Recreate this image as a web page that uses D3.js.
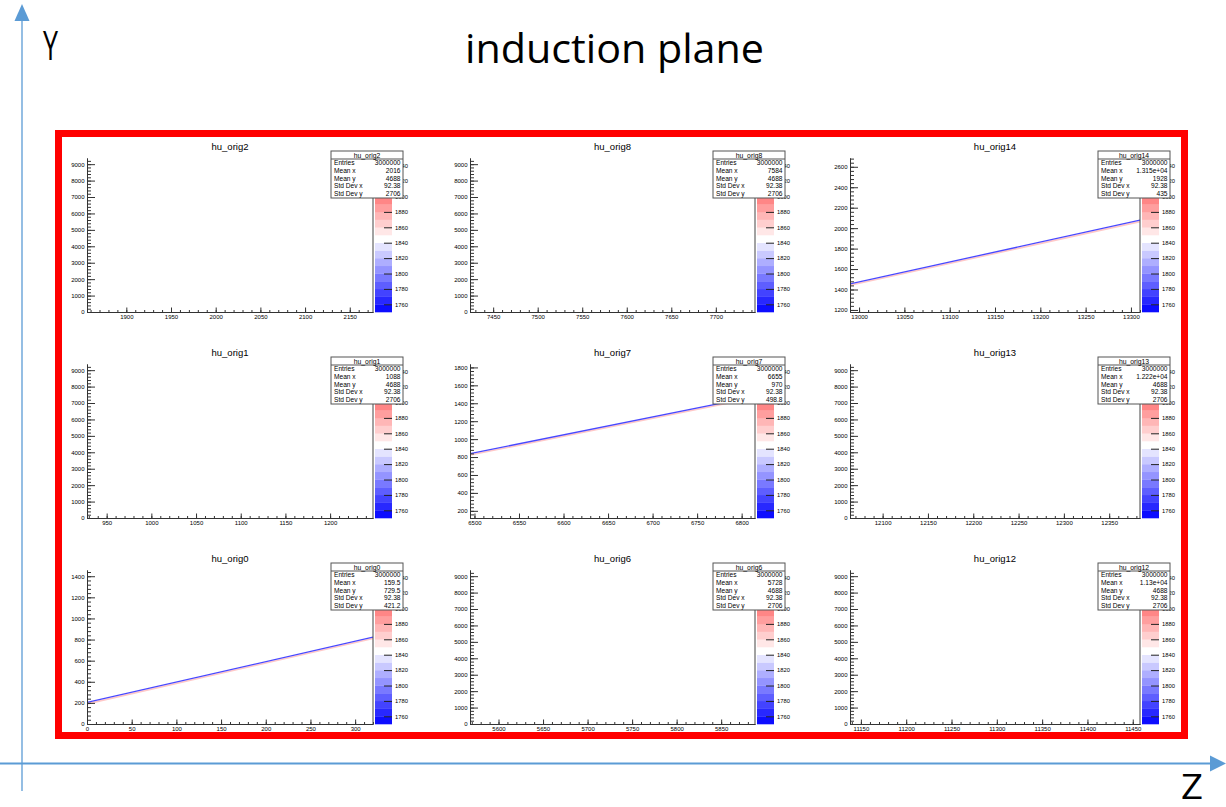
<!DOCTYPE html>
<html>
<head>
<meta charset="utf-8">
<script src="https://cdn.jsdelivr.net/npm/d3@7"></script>
<style>
  body { margin: 0; background: #fff; }
  svg { display: block; }
  .rootTxt { font-family: "Liberation Sans", Arial, sans-serif; }
</style>
</head>
<body>
<div id="chart"></div>
<script>
// ---- data ----
const histNames = ["hu_orig2", "hu_orig8", "hu_orig14",
                   "hu_orig1", "hu_orig7", "hu_orig13",
                   "hu_orig0", "hu_orig6", "hu_orig12"];
const xRanges = [[1856, 2176], [7424, 7744], [12990, 13310],
                 [928, 1248], [6495, 6815], [12064, 12384],
                 [0, 320], [5568, 5888], [11138, 11458]];
const yRanges = [[0, 9375], [0, 9375], [1180, 2686],
                 [0, 9375], [120, 1838], [0, 9375],
                 [0, 1459], [0, 9375], [0, 9375]];
const statEntries = ["3000000", "3000000", "3000000", "3000000", "3000000", "3000000", "3000000", "3000000", "3000000"];
const statMeanX = ["2016", "7584", "1.315e+04", "1088", "6655", "1.222e+04", "159.5", "5728", "1.13e+04"];
const statMeanY = ["4688", "4688", "1928", "4688", "970", "4688", "729.5", "4688", "4688"];
const statStdX = ["92.38", "92.38", "92.38", "92.38", "92.38", "92.38", "92.38", "92.38", "92.38"];
const statStdY = ["2706", "2706", "435", "2706", "498.8", "2706", "421.2", "2706", "2706"];
// track segments [xStart, yStart, xEnd, yEnd], null when the histogram looks empty
const trackLines = [null, null, [12990, 1455, 13310, 2078],
                    null, [6495, 838, 6815, 1478], null,
                    [0, 204, 320, 823], null, null];
const zRange = [1750, 1950];
const zTicks = [1760, 1780, 1800, 1820, 1840, 1860, 1880, 1900, 1920, 1940];

const W = 1226, H = 807;
const blue = "#5b9bd5";
const fmt = d3.format("d");

const svg = d3.select("#chart").append("svg")
    .attr("width", W)
    .attr("height", H);

// pad layout
const colLeft = [87, 470, 850];
const colRight = [373, 755, 1140];
const rowTop = [158, 364, 570];
const rowBottom = [312, 518, 724];

const zColor = d3.scaleLinear()
    .domain([zRange[0], 1845, zRange[1]])
    .range(["#0000ff", "#ffffff", "#ff0000"]);
const zBands = d3.range(zRange[0], zRange[1], 10);

histNames.forEach((name, i) => {
    const r = Math.floor(i / 3), c = i % 3;
    const x0 = colLeft[c], x1 = colRight[c], y0 = rowTop[r], y1 = rowBottom[r];
    const x = d3.scaleLinear().domain(xRanges[i]).range([x0, x1]);
    const y = d3.scaleLinear().domain(yRanges[i]).range([y1, y0]);
    const g = svg.append("g").attr("class", "rootTxt");

    // title
    g.append("text")
        .attr("x", (x0 + x1) / 2)
        .attr("y", y0 - 8.5)
        .attr("text-anchor", "middle")
        .style("font-size", "9.5px")
        .text(name);

    // track
    const clipId = "clip" + i;
    g.append("clipPath").attr("id", clipId)
        .append("rect").attr("x", x0).attr("y", y0).attr("width", x1 - x0).attr("height", y1 - y0);
    if (trackLines[i]) {
        const t = trackLines[i];
        const tg = g.append("g").attr("clip-path", `url(#${clipId})`);
        tg.append("line")
            .attr("x1", x(t[0])).attr("y1", y(t[1]) + 1.4)
            .attr("x2", x(t[2])).attr("y2", y(t[3]) + 1.4)
            .attr("stroke", "#ffc8c8").attr("stroke-width", 1.6);
        tg.append("line")
            .attr("x1", x(t[0])).attr("y1", y(t[1]))
            .attr("x2", x(t[2])).attr("y2", y(t[3]))
            .attr("stroke", "#4848ff").attr("stroke-width", 1.3);
    }

    // x axis
    const xd = xRanges[i];
    const xMajor = d3.range(Math.ceil(xd[0] / 50) * 50, xd[1] + 0.01, 50);
    const xMinor = d3.range(Math.ceil(xd[0] / 10) * 10, xd[1] + 0.01, 10);
    g.append("g")
        .attr("transform", `translate(0,${y1})`)
        .call(d3.axisBottom(x).tickValues(xMinor).tickSize(-2).tickSizeOuter(0).tickFormat(""));
    g.append("g")
        .attr("transform", `translate(0,${y1})`)
        .call(d3.axisBottom(x).tickValues(xMajor).tickSize(-4.5).tickSizeOuter(0).tickPadding(2.5).tickFormat(fmt))
        .call(a => a.selectAll("text").style("font-size", "6px").attr("font-family", null));

    // y axis
    const yd = yRanges[i];
    const yStep = (yd[1] - yd[0]) > 5000 ? 1000 : 200;
    const yMajor = d3.range(Math.ceil(yd[0] / yStep) * yStep, yd[1] + 0.01, yStep);
    const yMinor = d3.range(Math.ceil(yd[0] / (yStep / 5)) * (yStep / 5), yd[1] + 0.01, yStep / 5);
    g.append("g")
        .attr("transform", `translate(${x0},0)`)
        .call(d3.axisLeft(y).tickValues(yMinor).tickSize(-4).tickSizeOuter(0).tickFormat(""));
    g.append("g")
        .attr("transform", `translate(${x0},0)`)
        .call(d3.axisLeft(y).tickValues(yMajor).tickSize(-8).tickSizeOuter(0).tickPadding(2.5).tickFormat(fmt))
        .call(a => a.selectAll("text").style("font-size", "6px").attr("font-family", null));
    g.selectAll(".domain, .tick line").attr("stroke", "#333");

    // frame right edge
    g.append("line")
        .attr("x1", x1).attr("x2", x1).attr("y1", y0).attr("y2", y1)
        .attr("stroke", "#444").attr("stroke-width", 1);

    // palette
    const px0 = x1 + 2, px1 = x1 + 19;
    const z = d3.scaleLinear().domain(zRange).range([y1, y0]);
    g.append("g").selectAll("rect")
        .data(zBands)
        .join("rect")
        .attr("x", px0)
        .attr("y", d => z(d + 10))
        .attr("width", px1 - px0)
        .attr("height", d => z(d) - z(d + 10) + 0.3)
        .attr("fill", d => zColor(d + 5));
    g.append("g")
        .attr("transform", `translate(${px1},0)`)
        .call(d3.axisRight(z).tickValues(zTicks).tickSize(-8).tickSizeOuter(0).tickPadding(3).tickFormat(fmt))
        .call(a => a.select(".domain").remove())
        .call(a => a.selectAll("line").attr("stroke", "#222"))
        .call(a => a.selectAll("text").style("font-size", "5.8px").attr("font-family", null));

    // stats box
    const sx = x1 - 42, sy = y0 - 7, sw = 72, sh = 47;
    const sb = g.append("g");
    sb.append("rect")
        .attr("x", sx).attr("y", sy).attr("width", sw).attr("height", sh)
        .attr("fill", "#fff").attr("stroke", "#555").attr("stroke-width", 1);
    sb.append("line")
        .attr("x1", sx).attr("x2", sx + sw).attr("y1", sy + 8).attr("y2", sy + 8)
        .attr("stroke", "#555").attr("stroke-width", 1);
    sb.append("text")
        .attr("x", sx + sw / 2).attr("y", sy + 6.6)
        .attr("text-anchor", "middle")
        .style("font-size", "6.8px")
        .text(name);
    const labels = ["Entries", "Mean x", "Mean y", "Std Dev x", "Std Dev y"];
    const values = [statEntries[i], statMeanX[i], statMeanY[i], statStdX[i], statStdY[i]];
    labels.forEach((lab, k) => {
        const by = sy + 14.3 + k * 7.6;
        sb.append("text").attr("x", sx + 3).attr("y", by)
            .style("font-size", "6.6px").text(lab);
        sb.append("text").attr("x", sx + sw - 2.5).attr("y", by)
            .attr("text-anchor", "end")
            .style("font-size", "6.6px").text(values[k]);
    });
});

// red frame round the canvas grid
svg.append("rect")
    .attr("x", 58.5).attr("y", 133.5)
    .attr("width", 1126).attr("height", 602)
    .attr("fill", "none")
    .attr("stroke", "#ff0000")
    .attr("stroke-width", 7);

// Y and Z arrows
svg.append("line")
    .attr("x1", 22).attr("x2", 22).attr("y1", 18).attr("y2", 791)
    .attr("stroke", blue).attr("stroke-width", 1.3);
svg.append("path")
    .attr("d", "M22,4 L14.5,21 L29.5,21 Z")
    .attr("fill", blue);
svg.append("line")
    .attr("x1", 0).attr("x2", 1212).attr("y1", 763.5).attr("y2", 763.5)
    .attr("stroke", blue).attr("stroke-width", 1.8);
svg.append("path")
    .attr("d", "M1226,763.5 L1210,755.5 L1210,771.5 Z")
    .attr("fill", blue);

const bigFont = '"Open Sans", "Noto Sans", sans-serif';
svg.append("text")
    .attr("x", 465).attr("y", 63)
    .attr("textLength", 299).attr("lengthAdjust", "spacingAndGlyphs")
    .style("font-family", bigFont).style("font-size", "40px")
    .text("induction plane");
svg.append("text")
    .attr("x", 43).attr("y", 60)
    .attr("textLength", 15).attr("lengthAdjust", "spacingAndGlyphs")
    .style("font-family", bigFont).style("font-size", "40px")
    .text("Y");
svg.append("text")
    .attr("x", 1181).attr("y", 799)
    .attr("textLength", 22).attr("lengthAdjust", "spacingAndGlyphs")
    .style("font-family", bigFont).style("font-size", "34px")
    .text("Z");
</script>
</body>
</html>
